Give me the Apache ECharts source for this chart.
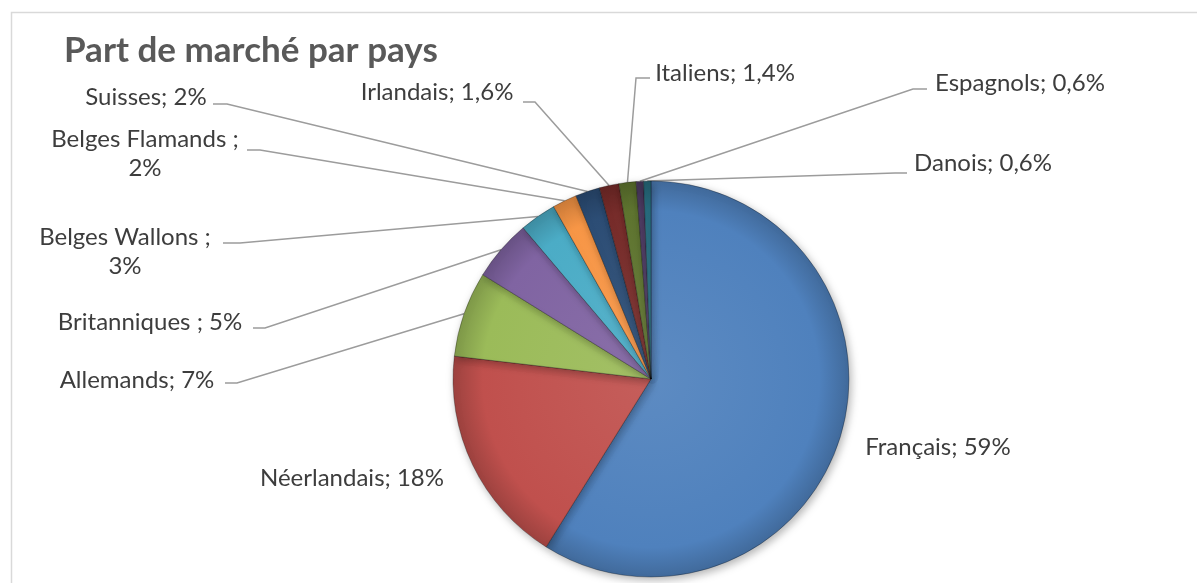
<!DOCTYPE html>
<html>
<head>
<meta charset="utf-8">
<script src="https://cdn.jsdelivr.net/npm/echarts@6/dist/echarts.min.js"></script>
<style>
html,body{margin:0;padding:0;background:#fff;}
#chart{width:1197px;height:583px;}
</style>
</head>
<body>
<div id="chart"></div>
<script>
// ---- data ----
const categories = ['Français','Néerlandais','Allemands','Britanniques','Belges Wallons','Belges Flamands','Suisses','Irlandais','Italiens','Espagnols','Danois'];
const values = [59, 18, 7, 5, 3, 2, 2, 1.6, 1.4, 0.6, 0.6];
const separators = ['; ', '; ', '; ', ' ; ', ' ;\n', ' ;\n', '; ', '; ', '; ', '; ', '; '];
const titleText = 'Part de marché par pays';

// ---- style / layout ----
const colors = ['#4F81BD','#C0504D','#9BBB59','#8064A2','#4BACC6','#F79646','#2C4D75','#772C2A','#5F7530','#4D3B62','#276A7C'];
const pieCenter = [651, 379];
const pieRadius = 198;
// label centres
const labelPos = [[938,447],[352,478],[137,380],[150,322],[125,252],[145,154],[146,97],[437,92],[725,73],[1020,83],[983,163]];
// label line end points (bend point, end point)
const lineEnds = [
  null, null,
  [[237,383],[225,383]],
  [[265,328],[253,328]],
  [[240,243],[223,243]],
  [[260,150],[247,150]],
  [[227,104],[213,104]],
  [[535,102],[523,102]],
  [[636,78],[650,78]],
  [[913,89],[927,89]],
  [[895,173],[907,173]]
];

function shade(hex, f) {
  const n = parseInt(hex.slice(1), 16);
  let r = (n >> 16) & 255, g = (n >> 8) & 255, b = n & 255;
  if (f < 0) { r = Math.round(r * (1 + f)); g = Math.round(g * (1 + f)); b = Math.round(b * (1 + f)); }
  else { r = Math.round(r + (255 - r) * f); g = Math.round(g + (255 - g) * f); b = Math.round(b + (255 - b) * f); }
  return 'rgb(' + r + ',' + g + ',' + b + ')';
}

const chart = echarts.init(document.getElementById('chart'), null, {renderer: 'canvas'});

const data = categories.map((name, i) => ({
  name: name,
  value: values[i],
  itemStyle: {
    color: {
      type: 'radial', x: pieCenter[0], y: pieCenter[1], r: pieRadius, global: true,
      colorStops: [
        {offset: 0, color: shade(colors[i], 0.08)},
        {offset: 0.85, color: colors[i]},
        {offset: 1, color: shade(colors[i], -0.18)}
      ]
    }
  },
  labelLine: {show: lineEnds[i] !== null}
}));

const option = {
  backgroundColor: '#ffffff',
  animation: false,
  title: {
    text: titleText,
    left: 59,
    top: 28,
    textStyle: {fontFamily: 'Lato', fontWeight: 'bold', fontSize: 35, lineHeight: 35, color: '#595959'}
  },
  graphic: [{
    type: 'rect', silent: true, z: -1,
    shape: {x: 11.5, y: 12.5, width: 1200, height: 600},
    style: {fill: 'none', stroke: '#d9d9d9', lineWidth: 1.5}
  }],
  series: [{
    type: 'pie',
    center: pieCenter,
    radius: pieRadius,
    startAngle: 90,
    clockwise: true,
    avoidLabelOverlap: false,
    data: data,
    itemStyle: {
      borderColor: 'rgba(0,0,0,0.28)',
      borderWidth: 1,
      shadowBlur: 8,
      shadowOffsetX: 2,
      shadowOffsetY: 3,
      shadowColor: 'rgba(0,0,0,0.3)'
    },
    emphasis: {disabled: true},
    label: {
      show: true,
      fontFamily: 'Lato',
      fontSize: 24,
      lineHeight: 29,
      color: '#3d3d3d',
      formatter: function (p) {
        return p.name + separators[p.dataIndex] + String(p.value).replace('.', ',') + '%';
      }
    },
    labelLine: {
      show: true,
      lineStyle: {color: '#9c9c9c', width: 1.5}
    },
    labelLayout: function (params) {
      const i = params.dataIndex;
      const res = {x: labelPos[i][0], y: labelPos[i][1], align: 'center', verticalAlign: 'middle'};
      if (lineEnds[i] && params.labelLinePoints) {
        res.labelLinePoints = [params.labelLinePoints[0], lineEnds[i][0], lineEnds[i][1]];
      }
      return res;
    }
  }]
};
chart.setOption(option);
</script>
</body>
</html>
